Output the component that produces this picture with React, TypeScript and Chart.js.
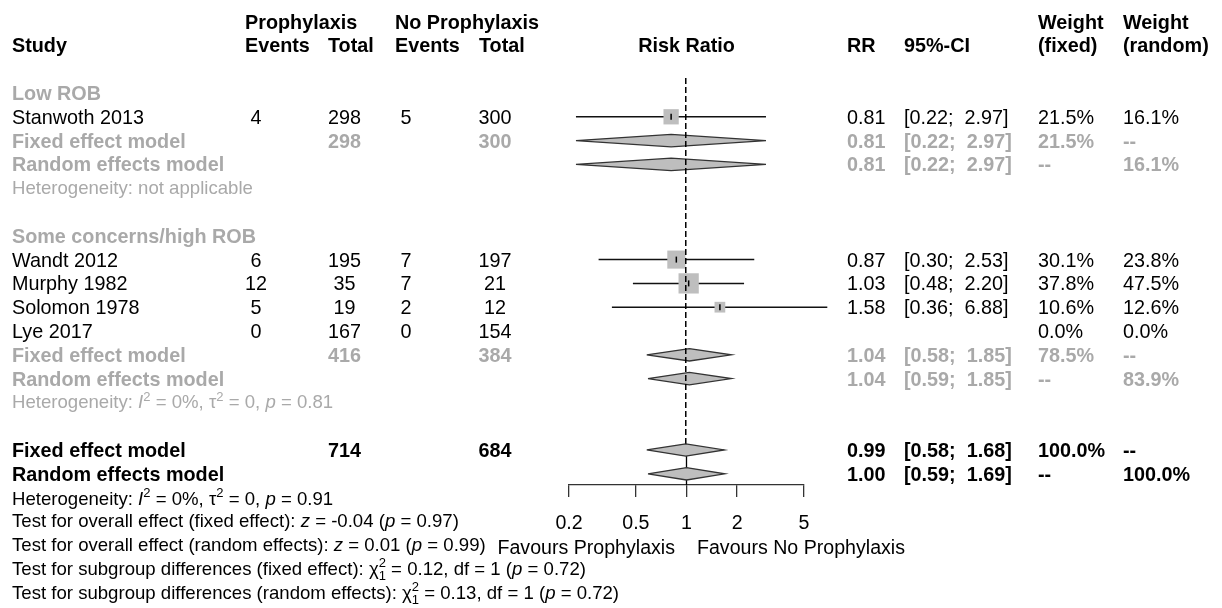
import React, { useEffect, useRef } from "react";
import { Chart, registerables } from "chart.js";

Chart.register(...registerables);

// ---------------- data ----------------
const studyLabels = ["Stanwoth 2013", "Wandt 2012", "Murphy 1982", "Solomon 1978", "Lye 2017"];
const studyGroup = [0, 1, 1, 1, 1];
const eventsProph = [4, 6, 12, 5, 0];
const totalProph = [298, 195, 35, 19, 167];
const eventsNoProph = [5, 7, 7, 2, 0];
const totalNoProph = [300, 197, 21, 12, 154];
const studyRR: (number | null)[] = [0.81, 0.87, 1.03, 1.58, null];
const studyLower: (number | null)[] = [0.22, 0.3, 0.48, 0.36, null];
const studyUpper: (number | null)[] = [2.97, 2.53, 2.2, 6.88, null];
const weightFixed = [21.5, 30.1, 37.8, 10.6, 0.0];
const weightRandom = [16.1, 23.8, 47.5, 12.6, 0.0];

const groupNames = ["Low ROB", "Some concerns/high ROB"];
const groupTotalProph = [298, 416];
const groupTotalNoProph = [300, 384];
const groupFixedRR = [0.81, 1.04];
const groupFixedLower = [0.22, 0.58];
const groupFixedUpper = [2.97, 1.85];
const groupFixedWeight = [21.5, 78.5];
const groupRandomRR = [0.81, 1.04];
const groupRandomLower = [0.22, 0.59];
const groupRandomUpper = [2.97, 1.85];
const groupRandomWeight = [16.1, 83.9];
const groupHetP: (number | null)[] = [null, 0.81];
const groupI2: (number | null)[] = [null, 0];
const groupTau2: (number | null)[] = [null, 0];

const overallTotalProph = 714;
const overallTotalNoProph = 684;
const overallFixed = [0.99, 0.58, 1.68];
const overallRandom = [1.0, 0.59, 1.69];
const overallHet = { i2: 0, tau2: 0, p: 0.91 };
const testOverallFixed = { z: "-0.04", p: "0.97" };
const testOverallRandom = { z: "0.01", p: "0.99" };
const testSubgroupFixed = { chi2: "0.12", df: 1, p: "0.72" };
const testSubgroupRandom = { chi2: "0.13", df: 1, p: "0.72" };

const tickValues = [0.2, 0.5, 1, 2, 5];

// ---------------- layout ----------------
const W = 1222;
const H = 608;
const FONT = "'Liberation Sans', Arial, Helvetica, sans-serif";
const GRAY = "#A9A9A9";
const ROW0 = 93;
const ROWH = 23.8;
const rowY = (k: number) => ROW0 + ROWH * k;
const AREA = { left: 569, right: 804, top: 70, bottom: 485 };
const MAIN = 19.8;
const SMALL = 18.6;

type Row = { kind: string; k: number; i?: number; g?: number };
const rows: Row[] = [];
let rr = 0;
groupNames.forEach((_, g) => {
  rows.push({ kind: "group", g, k: rr++ });
  studyLabels.forEach((_, i) => {
    if (studyGroup[i] === g) rows.push({ kind: "study", i, k: rr++ });
  });
  rows.push({ kind: "gfixed", g, k: rr++ });
  rows.push({ kind: "grandom", g, k: rr++ });
  rows.push({ kind: "ghet", g, k: rr++ });
  rr++;
});
const kOverallFixed = rr++;
const kOverallRandom = rr++;
const kOverallHet = rr++;
const kTests = [rr++, rr++, rr++, rr++];

const f2 = (v: number) => v.toFixed(2);
const ci = (lo: number, hi: number) => `[${f2(lo)};  ${f2(hi)}]`;
const pct = (v: number) => `${v.toFixed(1)}%`;

// ---------------- text helpers ----------------
const Sup = ({ c }: { c: string }) => (
  <span style={{ fontSize: "0.7em", position: "relative", top: "-0.6em" }}>{c}</span>
);
const ChiSq = ({ df }: { df: number }) => (
  <>
    <span>χ</span>
    <span style={{ fontSize: "0.7em", position: "relative", top: "-0.6em" }}>2</span>
    <span style={{ fontSize: "0.7em", position: "relative", top: "0.4em", marginLeft: "-0.556em" }}>{String(df)}</span>
  </>
);

function T(props: {
  x: number;
  k: number;
  align?: "left" | "center" | "right";
  bold?: boolean;
  color?: string;
  size?: number;
  children: any;
}) {
  const { x, k, align = "left", bold = false, color = "#000", size = MAIN, children } = props;
  const style: any = {
    position: "absolute",
    top: rowY(k) - 12,
    whiteSpace: "pre",
    lineHeight: "24px",
    fontSize: size,
    fontWeight: bold ? "bold" : "normal",
    color,
    fontFamily: FONT,
  };
  if (align === "left") style.left = x;
  else if (align === "center") {
    style.left = x - 150;
    style.width = 300;
    style.textAlign = "center";
  } else style.right = W - x;
  return <div style={style}>{children}</div>;
}

const COL = { study: 12, evP: 256, totP: 344.5, evN: 406, totN: 495, rr: 847, ci: 904, wf: 1038, wr: 1123 };

export default function App() {
  const ref = useRef<HTMLCanvasElement | null>(null);

  useEffect(() => {
    if (!ref.current) return;
    const datasets: any[] = [];
    const half = 0.26;
    const kTop = (78 - ROW0) / ROWH;
    const kBottom = (AREA.bottom - ROW0) / ROWH;

    // estimate tick marks (top)
    datasets.push({
      type: "scatter",
      data: rows
        .filter((r) => r.kind === "study" && studyRR[r.i!] != null)
        .map((r) => ({ x: studyRR[r.i!], y: r.k })),
      pointStyle: "line",
      rotation: 90,
      pointRadius: 3,
      borderColor: "#000",
      borderWidth: 1.5,
      order: 0,
      clip: false,
    });

    // dashed line at overall fixed estimate (over squares and diamonds)
    datasets.push({
      type: "line",
      showLine: true,
      data: [
        { x: overallFixed[0], y: kTop },
        { x: overallFixed[0], y: kOverallFixed - half },
      ],
      borderColor: "#000",
      borderWidth: 1.5,
      borderDash: [6, 3],
      pointRadius: 0,
      fill: false,
      order: 0.5,
      clip: false,
    });

    // diamonds
    const diamond = (est: number, lo: number, hi: number, k: number) => ({
      type: "line",
      showLine: true,
      data: [
        { x: lo, y: k },
        { x: est, y: k - half },
        { x: hi, y: k },
        { x: est, y: k + half },
        { x: lo, y: k },
      ],
      fill: "shape",
      backgroundColor: "#BEBEBE",
      borderColor: "#333",
      borderWidth: 1.3,
      pointRadius: 0,
      tension: 0,
      order: 1,
      clip: false,
    });
    rows.forEach((r) => {
      if (r.kind === "gfixed") datasets.push(diamond(groupFixedRR[r.g!], groupFixedLower[r.g!], groupFixedUpper[r.g!], r.k));
      if (r.kind === "grandom") datasets.push(diamond(groupRandomRR[r.g!], groupRandomLower[r.g!], groupRandomUpper[r.g!], r.k));
    });
    datasets.push(diamond(overallFixed[0], overallFixed[1], overallFixed[2], kOverallFixed));
    datasets.push(diamond(overallRandom[0], overallRandom[1], overallRandom[2], kOverallRandom));

    // squares
    datasets.push({
      type: "scatter",
      data: rows
        .filter((r) => r.kind === "study" && studyRR[r.i!] != null)
        .map((r) => ({ x: studyRR[r.i!], y: r.k, w: weightFixed[r.i!] })),
      pointStyle: "rect",
      pointRadius: (c: any) => 2.33 * Math.sqrt(c.raw ? c.raw.w : 0),
      backgroundColor: "#BEBEBE",
      borderWidth: 0,
      order: 2,
      clip: false,
    });

    // CI lines
    rows
      .filter((r) => r.kind === "study" && studyRR[r.i!] != null)
      .forEach((r) => {
        datasets.push({
          type: "line",
          showLine: true,
          data: [
            { x: studyLower[r.i!], y: r.k },
            { x: studyUpper[r.i!], y: r.k },
          ],
          borderColor: "#111",
          borderWidth: 1.5,
          pointRadius: 0,
          fill: false,
          order: 3,
          clip: false,
        });
      });

    // solid reference segment below overall diamonds
    datasets.push({
      type: "line",
      showLine: true,
      data: [
        { x: 1, y: kOverallFixed },
        { x: 1, y: kBottom },
      ],
      borderColor: "#000",
      borderWidth: 1.3,
      pointRadius: 0,
      fill: false,
      order: 4,
      clip: false,
    });

    const chart = new Chart(ref.current, {
      type: "scatter",
      data: { datasets },
      options: {
        responsive: false,
        animation: false,
        events: [],
        layout: {
          padding: { left: AREA.left, right: W - AREA.right, top: AREA.top, bottom: 57.5 },
        },
        plugins: { legend: { display: false }, tooltip: { enabled: false } },
        scales: {
          x: {
            type: "logarithmic",
            position: "bottom",
            min: 0.2,
            max: 5,
            grid: { display: true, drawOnChartArea: false, drawTicks: true, tickLength: 12, color: "#333", lineWidth: 1.3 },
            border: { display: true, color: "#333", width: 1.3 },
            afterBuildTicks: (scale: any) => {
              scale.ticks = tickValues.map((v) => ({ value: v }));
            },
            ticks: {
              autoSkip: false,
              maxRotation: 0,
              padding: 15,
              color: "#000",
              font: { family: FONT, size: 19.6 },
              callback: (v: any) => String(v),
            },
          },
          y: {
            type: "linear",
            display: false,
            reverse: true,
            min: (AREA.top - ROW0) / ROWH,
            max: kBottom,
          },
        },
      } as any,
    });
    return () => chart.destroy();
  }, []);

  const texts: any[] = [];
  let key = 0;
  const add = (el: any) => texts.push(React.cloneElement(el, { key: key++ }));

  // headers
  add(<T x={COL.study} k={-2} bold>Study</T>);
  add(<T x={245} k={-3} bold>Prophylaxis</T>);
  add(<T x={245} k={-2} bold>Events</T>);
  add(<T x={328} k={-2} bold>Total</T>);
  add(<T x={395} k={-3} bold>No Prophylaxis</T>);
  add(<T x={395} k={-2} bold>Events</T>);
  add(<T x={479} k={-2} bold>Total</T>);
  add(<T x={686.5} k={-2} bold align="center">Risk Ratio</T>);
  add(<T x={COL.rr} k={-2} bold>RR</T>);
  add(<T x={COL.ci} k={-2} bold>95%-CI</T>);
  add(<T x={COL.wf} k={-3} bold>Weight</T>);
  add(<T x={COL.wf} k={-2} bold>(fixed)</T>);
  add(<T x={COL.wr} k={-3} bold>Weight</T>);
  add(<T x={COL.wr} k={-2} bold>(random)</T>);

  rows.forEach((r) => {
    const k = r.k;
    if (r.kind === "group") {
      add(<T x={COL.study} k={k} bold color={GRAY}>{groupNames[r.g!]}</T>);
    } else if (r.kind === "study") {
      const i = r.i!;
      add(<T x={COL.study} k={k}>{studyLabels[i]}</T>);
      add(<T x={COL.evP} k={k} align="center">{String(eventsProph[i])}</T>);
      add(<T x={COL.totP} k={k} align="center">{String(totalProph[i])}</T>);
      add(<T x={COL.evN} k={k} align="center">{String(eventsNoProph[i])}</T>);
      add(<T x={COL.totN} k={k} align="center">{String(totalNoProph[i])}</T>);
      if (studyRR[i] != null) {
        add(<T x={COL.rr} k={k}>{f2(studyRR[i]!)}</T>);
        add(<T x={COL.ci} k={k}>{ci(studyLower[i]!, studyUpper[i]!)}</T>);
      }
      add(<T x={COL.wf} k={k}>{pct(weightFixed[i])}</T>);
      add(<T x={COL.wr} k={k}>{pct(weightRandom[i])}</T>);
    } else if (r.kind === "gfixed") {
      const g = r.g!;
      add(<T x={COL.study} k={k} bold color={GRAY}>Fixed effect model</T>);
      add(<T x={COL.totP} k={k} align="center" bold color={GRAY}>{String(groupTotalProph[g])}</T>);
      add(<T x={COL.totN} k={k} align="center" bold color={GRAY}>{String(groupTotalNoProph[g])}</T>);
      add(<T x={COL.rr} k={k} bold color={GRAY}>{f2(groupFixedRR[g])}</T>);
      add(<T x={COL.ci} k={k} bold color={GRAY}>{ci(groupFixedLower[g], groupFixedUpper[g])}</T>);
      add(<T x={COL.wf} k={k} bold color={GRAY}>{pct(groupFixedWeight[g])}</T>);
      add(<T x={COL.wr} k={k} bold color={GRAY}>--</T>);
    } else if (r.kind === "grandom") {
      const g = r.g!;
      add(<T x={COL.study} k={k} bold color={GRAY}>Random effects model</T>);
      add(<T x={COL.rr} k={k} bold color={GRAY}>{f2(groupRandomRR[g])}</T>);
      add(<T x={COL.ci} k={k} bold color={GRAY}>{ci(groupRandomLower[g], groupRandomUpper[g])}</T>);
      add(<T x={COL.wf} k={k} bold color={GRAY}>--</T>);
      add(<T x={COL.wr} k={k} bold color={GRAY}>{pct(groupRandomWeight[g])}</T>);
    } else if (r.kind === "ghet") {
      const g = r.g!;
      if (groupHetP[g] == null) {
        add(<T x={COL.study} k={k} size={SMALL} color={GRAY}>Heterogeneity: not applicable</T>);
      } else {
        add(
          <T x={COL.study} k={k} size={SMALL} color={GRAY}>
            {"Heterogeneity: "}<i>I</i><Sup c="2" />{` = ${groupI2[g]}%, τ`}<Sup c="2" />{` = ${groupTau2[g]}, `}<i>p</i>{` = ${f2(groupHetP[g]!)}`}
          </T>
        );
      }
    }
  });

  // overall
  add(<T x={COL.study} k={kOverallFixed} bold>Fixed effect model</T>);
  add(<T x={COL.totP} k={kOverallFixed} bold align="center">{String(overallTotalProph)}</T>);
  add(<T x={COL.totN} k={kOverallFixed} bold align="center">{String(overallTotalNoProph)}</T>);
  add(<T x={COL.rr} k={kOverallFixed} bold>{f2(overallFixed[0])}</T>);
  add(<T x={COL.ci} k={kOverallFixed} bold>{ci(overallFixed[1], overallFixed[2])}</T>);
  add(<T x={COL.wf} k={kOverallFixed} bold>{pct(100)}</T>);
  add(<T x={COL.wr} k={kOverallFixed} bold>--</T>);
  add(<T x={COL.study} k={kOverallRandom} bold>Random effects model</T>);
  add(<T x={COL.rr} k={kOverallRandom} bold>{f2(overallRandom[0])}</T>);
  add(<T x={COL.ci} k={kOverallRandom} bold>{ci(overallRandom[1], overallRandom[2])}</T>);
  add(<T x={COL.wf} k={kOverallRandom} bold>--</T>);
  add(<T x={COL.wr} k={kOverallRandom} bold>{pct(100)}</T>);
  add(
    <T x={COL.study} k={kOverallHet + 0.05} size={SMALL}>
      {"Heterogeneity: "}<i>I</i><Sup c="2" />{` = ${overallHet.i2}%, τ`}<Sup c="2" />{` = ${overallHet.tau2}, `}<i>p</i>{` = ${f2(overallHet.p)}`}
    </T>
  );
  add(
    <T x={COL.study} k={kTests[0]} size={SMALL}>
      {"Test for overall effect (fixed effect): "}<i>z</i>{` = ${testOverallFixed.z} (`}<i>p</i>{` = ${testOverallFixed.p})`}
    </T>
  );
  add(
    <T x={COL.study} k={kTests[1]} size={SMALL}>
      {"Test for overall effect (random effects): "}<i>z</i>{` = ${testOverallRandom.z} (`}<i>p</i>{` = ${testOverallRandom.p})`}
    </T>
  );
  add(
    <T x={COL.study} k={kTests[2]} size={SMALL}>
      {"Test for subgroup differences (fixed effect): "}<ChiSq df={testSubgroupFixed.df} />{` = ${testSubgroupFixed.chi2}, df = ${testSubgroupFixed.df} (`}<i>p</i>{` = ${testSubgroupFixed.p})`}
    </T>
  );
  add(
    <T x={COL.study} k={kTests[3]} size={SMALL}>
      {"Test for subgroup differences (random effects): "}<ChiSq df={testSubgroupRandom.df} />{` = ${testSubgroupRandom.chi2}, df = ${testSubgroupRandom.df} (`}<i>p</i>{` = ${testSubgroupRandom.p})`}
    </T>
  );
  add(<T x={675} k={kTests[1] + 0.08} align="right" size={19.6}>Favours Prophylaxis</T>);
  add(<T x={697} k={kTests[1] + 0.08} size={19.6}>Favours No Prophylaxis</T>);

  return (
    <div style={{ position: "absolute", left: 0, top: 0, width: W, height: H, background: "#fff", overflow: "hidden" }}>
      <canvas ref={ref} width={W} height={H} style={{ position: "absolute", left: 0, top: 0, width: W, height: H }} />
      {texts}
    </div>
  );
}
